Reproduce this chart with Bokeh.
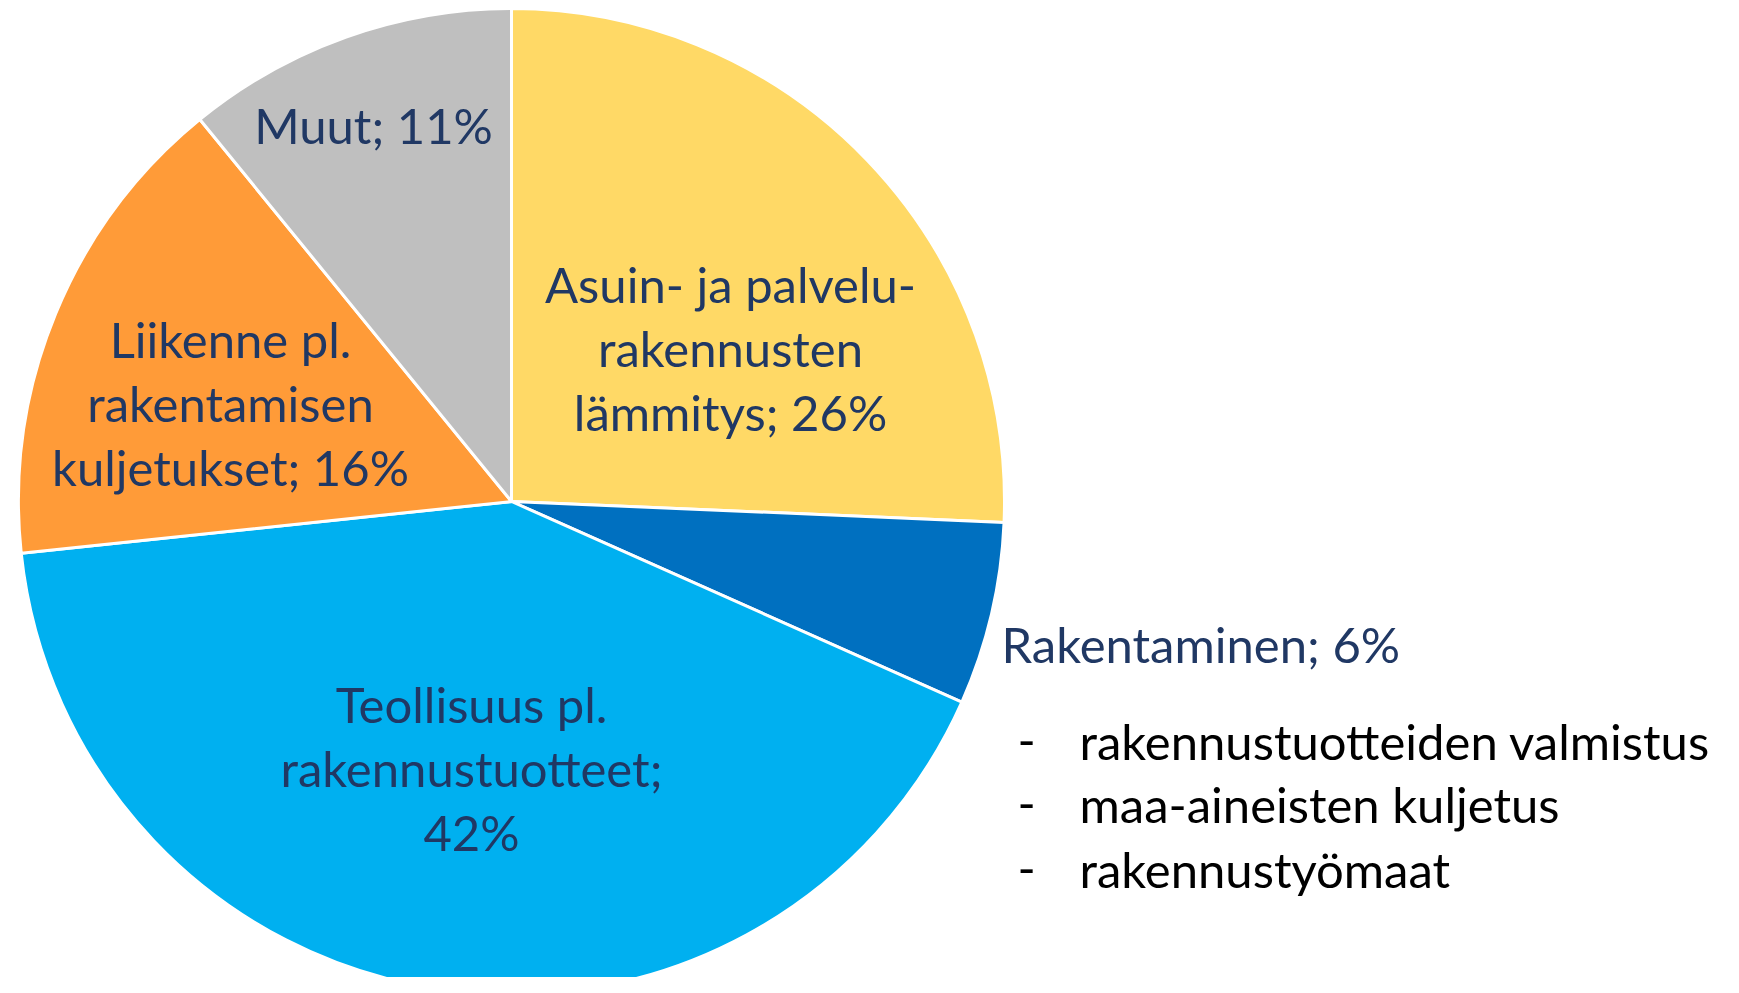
import numpy as np
from bokeh.plotting import figure
from bokeh.models import Range1d, ColumnDataSource
from bokeh.embed import file_html
from bokeh.resources import INLINE
from bokeh.core.properties import value

# ---- data ----
categories = ["Asuin- ja palvelurakennusten lämmitys", "Rakentaminen",
              "Teollisuus pl. rakennustuotteet",
              "Liikenne pl. rakentamisen kuljetukset", "Muut"]
shares = [25.7, 6.0, 41.7, 15.8, 10.9]
label_lines = [["Asuin- ja palvelu-", "rakennusten", "lämmitys; 26%"],
               ["Rakentaminen; 6%"],
               ["Teollisuus pl.", "rakennustuotteet;", "42%"],
               ["Liikenne pl.", "rakentamisen", "kuljetukset; 16%"],
               ["Muut; 11%"]]
sub_items = ["rakennustuotteiden valmistus", "maa-aineisten kuljetus", "rakennustyömaat"]
colors = ["#FFD966", "#0070C0", "#00B0F0", "#FF9B38", "#BFBFBF"]

# ---- layout (screen-pixel based) ----
W, H = 1723, 977
OFF = 0  # data x = screen x within the captured picture
CX, CY, R = 511, 993 - 501, 493
label_anchor = [(730, 347, "center"), (1001, 643, "left"), (471, 767, "center"),
                (230, 402, "center"), (373, 124, "center")]
LINE_H = 64
FONT = "Lato"
FS = "49px"
TXT_COLOR = "#203864"

p = figure(width=W, height=H, output_backend="svg", toolbar_location=None,
           x_range=Range1d(OFF, OFF + W), y_range=Range1d(993 - OFF - H, 993 - OFF),
           min_border=0)
p.axis.visible = False
p.grid.visible = False
p.outline_line_color = None
p.background_fill_color = "white"

vals = np.array(shares, dtype=float)
frac = vals / vals.sum()
cum = np.concatenate([[0], np.cumsum(frac)])
start = np.pi / 2 - 2 * np.pi * cum[:-1]
end = np.pi / 2 - 2 * np.pi * cum[1:]
src = ColumnDataSource(dict(start=start, end=end, color=colors, cat=categories))
p.wedge(x=CX, y=CY, radius=R, start_angle="start", end_angle="end",
        direction="clock", fill_color="color", line_color="white", line_width=3,
        source=src)

for lines, (ax, ay, align) in zip(label_lines, label_anchor):
    n = len(lines)
    ys = [993 - (ay + (i - (n - 1) / 2) * LINE_H) for i in range(n)]
    p.text(x=[ax] * n, y=ys, text=lines, text_font=value(FONT), text_font_size=FS,
           text_color=TXT_COLOR, text_align=align, text_baseline="middle")

sub_y = [740, 803, 868]
p.text(x=[1026] * 3, y=[993 - y for y in sub_y], text=["-"] * 3, text_font=value(FONT),
       text_font_size=FS, text_color="black", text_align="center", text_baseline="middle")
p.text(x=[1079] * 3, y=[993 - y for y in sub_y], text=sub_items, text_font=value(FONT),
       text_font_size=FS, text_color="black", text_align="left", text_baseline="middle")

open("out.html", "w").write(file_html(p, INLINE))
